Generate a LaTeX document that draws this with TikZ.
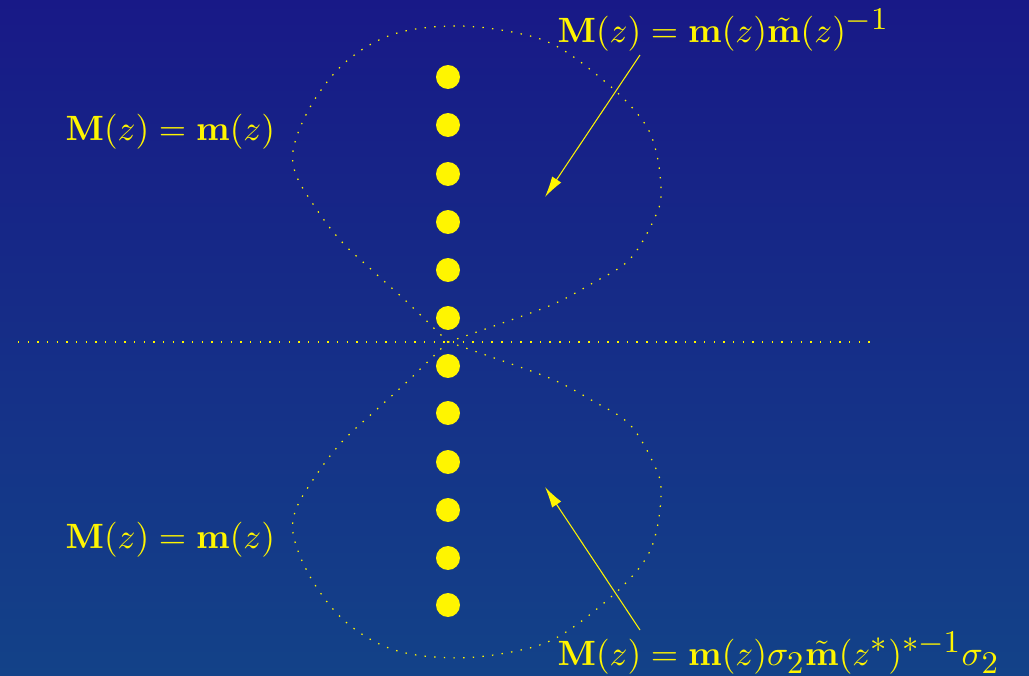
\documentclass[tikz,border=0pt]{standalone}
\usetikzlibrary{arrows.meta}
\DeclareMathSizes{10}{10}{9}{7}
\definecolor{bgtop}{RGB}{24,25,135}
\definecolor{bgbottom}{RGB}{19,66,136}
\definecolor{zeroyellow}{RGB}{255,245,0}
\begin{document}
\begin{tikzpicture}[x=0.02cm, y=-0.02cm,
    zero/.style={circle, fill=zeroyellow, inner sep=0pt, minimum size=0.48cm},
    contour/.style={zeroyellow, line width=0.7pt, dash pattern=on 0.8pt off 4.7pt},
    formula/.style={zeroyellow, scale=2, inner sep=0pt, anchor=base west},
    pointer/.style={zeroyellow, line width=0.6pt, -{Latex[length=0.42cm, width=0.22cm]}}]
  \useasboundingbox (0,0) rectangle (1029,676);
  \shade[top color=bgtop, bottom color=bgbottom] (0,0) rectangle (1029,676);

  % real axis
  \coordinate (realL) at (18,342);
  \coordinate (realR) at (876,342);
  \draw[contour] (realL) -- (realR);

  % the two loops, the lower one mirrored in the real axis
  \foreach \s in {1,-1} {
    \begin{scope}[yshift={(\s-1)*6.84cm}, yscale=\s]
      \draw[contour] plot[smooth, tension=0.6] coordinates {
        (448,342) (525,315) (558,302) (591,284) (630,259) (656,215)
        (661,190) (656,151) (643,121) (610,86) (558,47) (512,32)
        (453,26) (394,34) (348,60) (315,99) (295,142) (295,172)
        (315,207) (341,241) (374,272) (407,302) (448,342)
      };
    \end{scope}
  }

  % poles on the imaginary axis
  \foreach \y [count=\i] in {77,125,174,222,270,318,366,413,462,510,558,605}
    \node[zero] (p\i) at (448,\y) {};

  % jump conditions
  \node[formula] (mleftup) at (65,140) {$\mathbf{M}(z)=\mathbf{m}(z)$};
  \node[formula] (mleftdown) at (65,548) {$\mathbf{M}(z)=\mathbf{m}(z)$};
  \node[formula] (mtop) at (557,42) {$\mathbf{M}(z)=\mathbf{m}(z)\tilde{\mathbf{m}}(z)^{-1}$};
  \node[formula] (mbottom) at (557,665) {$\mathbf{M}(z)=\mathbf{m}(z)\sigma_2\tilde{\mathbf{m}}(z^*)^{*-1}\sigma_2$};

  \coordinate (uptail) at (640,55);
  \coordinate (uptip) at (545,197);
  \draw[pointer] (uptail) -- (uptip);
  \coordinate (downtail) at (640,630);
  \coordinate (downtip) at (545,487);
  \draw[pointer] (downtail) -- (downtip);
\end{tikzpicture}
\end{document}
